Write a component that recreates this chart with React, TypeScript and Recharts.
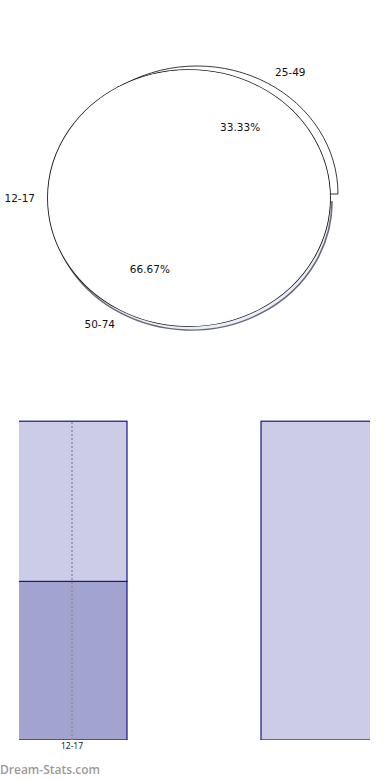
import React from 'react';
import { PieChart, Pie, Cell, BarChart, Bar, XAxis, YAxis, ReferenceLine } from 'recharts';

// ---- data ----
const ageGroups = ['25-49', '50-74', '12-17'];
const ageCounts = [1, 2, 0];

const barCategories = ['12-17', '25-49'];
const lowerShare = [50, 0];
const upperShare = [50, 100];
const shownTicks = ['12-17'];

const pieData = ageGroups.map((name, i) => ({ name, value: ageCounts[i] }));
const barData = barCategories.map((cat, i) => ({ cat, lower: lowerShare[i], upper: upperShare[i] }));

// ---- style ----
const SY = 0.908;
const RAD = Math.PI / 180;
const FONT = '"DejaVu Sans", sans-serif';
const PLOT_CLIP = { x: 19, y: 0, width: 351, height: 340 };

function renderLabel(props: any) {
  const { cx, cy, midAngle, outerRadius, percent, value } = props;
  const name = props.payload?.name ?? props.name;
  const ang = value === 0 ? 180 : midAngle;
  const c = Math.cos(-ang * RAD);
  const s = Math.sin(-ang * RAD);
  const r0 = 141;
  const rOut = r0 + 19;
  const nx = cx + rOut * c + 6;
  const ny = cy + rOut * s;
  const rIn = r0 * 0.64;
  const px = cx + rIn * c + 6;
  const py = cy + rIn * s;
  const inv = 1 / SY;
  return (
    <g>
      <text
        transform={`translate(${nx},${ny}) scale(1,${inv})`}
        x={0}
        y={0}
        textAnchor={c >= 0 ? 'start' : 'end'}
        dominantBaseline="central"
        fontSize={10.5}
        fontFamily={FONT}
        fill="#111"
      >
        {name}
      </text>
      {percent > 0 && (
        <text
          transform={`translate(${px},${py}) scale(1,${inv})`}
          x={0}
          y={0}
          textAnchor="middle"
          dominantBaseline="central"
          fontSize={10.5}
          fontFamily={FONT}
          fill="#111"
        >
          {`${(percent * 100).toFixed(2)}%`}
        </text>
      )}
    </g>
  );
}

function ClippedBar(props: any) {
  const { x, y, width, height, fill, stroke, strokeWidth, index, dataKey } = props;
  if (!height || height <= 0) return <g />;
  const id = `barclip-${String(dataKey)}-${index}`;
  return (
    <g>
      <defs>
        <clipPath id={id}>
          <rect x={PLOT_CLIP.x} y={PLOT_CLIP.y} width={PLOT_CLIP.width} height={PLOT_CLIP.height} />
        </clipPath>
      </defs>
      <rect
        x={x}
        y={y}
        width={width}
        height={height}
        fill={fill}
        stroke={stroke}
        strokeWidth={strokeWidth}
        clipPath={`url(#${id})`}
      />
    </g>
  );
}

export default function App() {
  return (
    <div style={{ position: 'absolute', left: 0, top: 0, width: 390, height: 780, background: '#fff', overflow: 'hidden' }}>
      <div
        style={{
          position: 'absolute',
          left: 0,
          top: 0,
          width: 390,
          height: 400,
          transform: `scaleY(${SY})`,
          transformOrigin: '189px 198px',
        }}
      >
        <PieChart width={390} height={400} margin={{ top: 0, right: 0, bottom: 0, left: 0 }}>
          {/* shadow / depth of 50-74 */}
          <Pie
            data={pieData}
            dataKey="value"
            nameKey="name"
            cx={191}
            cy={202.5}
            outerRadius={141}
            isAnimationActive={false}
            labelLine={false}
          >
            {pieData.map((d, i) => (
              <Cell
                key={`b${i}`}
                fill={i === 1 ? '#e9eefa' : 'none'}
                stroke={i === 1 ? '#6a6a78' : 'none'}
                strokeWidth={1.6}
              />
            ))}
          </Pie>
          {/* exploded 25-49 */}
          <Pie
            data={pieData}
            dataKey="value"
            nameKey="name"
            cx={197}
            cy={193.6}
            outerRadius={141}
            isAnimationActive={false}
            labelLine={false}
          >
            {pieData.map((d, i) => (
              <Cell
                key={`a${i}`}
                fill={i === 0 ? '#ffffff' : 'none'}
                stroke={i === 0 ? '#1a1a1a' : 'none'}
                strokeWidth={0.9}
              />
            ))}
          </Pie>
          {/* outline of the whole pie */}
          <Pie
            data={pieData}
            dataKey="value"
            nameKey="name"
            cx={189}
            cy={198}
            outerRadius={141}
            isAnimationActive={false}
            labelLine={false}
            fill="#ffffff"
            stroke="#1a1a1a"
            strokeWidth={1.8}
          />
          {/* main pie face */}
          <Pie
            data={pieData}
            dataKey="value"
            nameKey="name"
            cx={189}
            cy={198}
            outerRadius={140.4}
            isAnimationActive={false}
            labelLine={false}
            label={renderLabel}
            fill="#ffffff"
            stroke="#ffffff"
            strokeWidth={1.2}
          />
        </PieChart>
      </div>

      <div style={{ position: 'absolute', left: 0, top: 400, width: 390, height: 360 }}>
        <BarChart
          width={390}
          height={360}
          data={barData}
          margin={{ top: 18, right: 20, bottom: 6, left: 19 }}
          barSize={110}
        >
          <XAxis
            dataKey="cat"
            type="category"
            padding={{ left: -69, right: -68 }}
            axisLine={false}
            tickLine={false}
            tickSize={0}
            tickMargin={3}
            ticks={shownTicks}
            interval={0}
            height={14}
            tick={{ fontSize: 8.5, fill: '#222', fontFamily: '"Noto Sans", sans-serif' }}
          />
          <YAxis hide domain={[0.5, 101]} allowDataOverflow />
          <Bar
            dataKey="lower"
            stackId="s"
            fill="#a3a3d0"
            stroke="#16168a"
            strokeWidth={1.2}
            shape={ClippedBar}
            isAnimationActive={false}
          />
          <Bar
            dataKey="upper"
            stackId="s"
            fill="#cccce6"
            stroke="#16168a"
            strokeWidth={1.2}
            shape={ClippedBar}
            isAnimationActive={false}
          />
          <ReferenceLine
            segment={[
              { x: '12-17', y: 0.5 },
              { x: '12-17', y: 100 },
            ]}
            stroke="#8e8e9e"
            strokeDasharray="2 2"
            strokeWidth={1.5}
          />
        </BarChart>
      </div>

      <div
        style={{
          position: 'absolute',
          left: 0,
          top: 762,
          fontFamily: '"Open Sans", sans-serif',
          fontWeight: 600,
          fontSize: 12,
          lineHeight: '16px',
          color: '#9a9a9a',
        }}
      >
        Dream-Stats.com
      </div>
    </div>
  );
}
